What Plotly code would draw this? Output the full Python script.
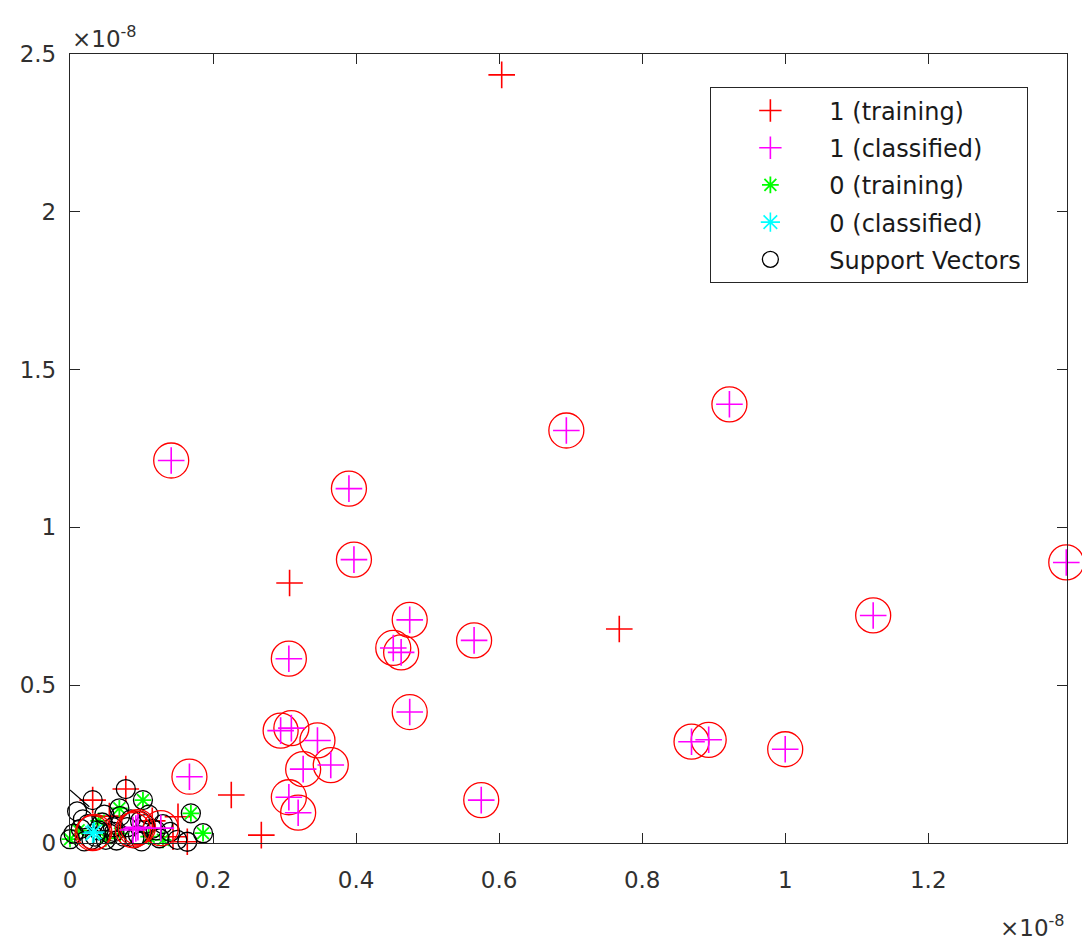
import plotly.graph_objects as go

# values in units of 1e-8
train1_x = [0.6036, 0.307, 0.768, 0.2255, 0.2675, 0.151, 0.144, 0.164, 0.0317, 0.078, 0.055, 0.115]
train1_y = [2.434, 0.824, 0.678, 0.152, 0.025, 0.083, 0.020, 0.004, 0.136, 0.171, 0.085, 0.070]

class1_x = [0.1415, 0.390, 0.397, 0.694, 0.922, 1.393, 1.123, 0.475, 0.452, 0.463, 0.565, 0.306,
            0.475, 0.2945, 0.3095, 0.346, 0.326, 0.3646, 0.306, 0.319, 0.575, 0.869, 0.893, 1.000,
            0.167, 0.088, 0.092, 0.095, 0.127]
class1_y = [1.212, 1.123, 0.898, 1.307, 1.390, 0.889, 0.721, 0.707, 0.618, 0.604, 0.642, 0.584,
            0.415, 0.356, 0.364, 0.325, 0.234, 0.247, 0.145, 0.096, 0.136, 0.321, 0.327, 0.297,
            0.210, 0.041, 0.046, 0.050, 0.047]

train0_x = [0.102, 0.169, 0.186, 0.069, 0.000, 0.012, 0.050, 0.070, 0.110, 0.130, 0.040]
train0_y = [0.136, 0.094, 0.031, 0.110, 0.012, 0.040, 0.015, 0.030, 0.020, 0.010, 0.070]

class0_x = [0.0317, 0.034]
class0_y = [0.031, 0.035]

sv_x = [0.0317, 0.078, 0.102, 0.169, 0.186, 0.164, 0.069, 0.000, 0.015, 0.045, 0.010, 0.050,
        0.075, 0.100, 0.125, 0.140, 0.060, 0.085, 0.110, 0.035, 0.020, 0.005, 0.025, 0.040,
        0.055, 0.065, 0.080, 0.095, 0.105, 0.120, 0.030, 0.070, 0.090, 0.115, 0.130, 0.018,
        0.048, 0.062, 0.098, 0.150]
sv_y = [0.136, 0.171, 0.136, 0.094, 0.031, 0.004, 0.110, 0.012, 0.045, 0.065, 0.100, 0.010,
        0.020, 0.005, 0.015, 0.035, 0.050, 0.075, 0.090, 0.020, 0.005, 0.030, 0.060, 0.040,
        0.030, 0.008, 0.050, 0.025, 0.060, 0.040, 0.010, 0.085, 0.015, 0.045, 0.060, 0.075,
        0.090, 0.035, 0.070, 0.010]

boundary_x = [0.0, 0.027]
boundary_y = [0.168, 0.115]

x_ticks = [0, 0.2, 0.4, 0.6, 0.8, 1.0, 1.2]
x_tick_text = ["0", "0.2", "0.4", "0.6", "0.8", "1", "1.2"]
y_ticks = [0, 0.5, 1.0, 1.5, 2.0, 2.5]
y_tick_text = ["0", "0.5", "1", "1.5", "2", "2.5"]

X_MAX = 1.394
Y_MAX = 2.5

FONT = "DejaVu Sans, Arial, sans-serif"
AX = "#262626"

fig = go.Figure()

fig.add_trace(go.Scatter(
    x=train1_x, y=train1_y, mode="markers", name="1 (training)", legendrank=1,
    legendgroup="a",
    marker=dict(symbol="cross-thin", size=19, color="#ff0000",
                line=dict(color="#ff0000", width=1.6)),
    cliponaxis=False))

fig.add_trace(go.Scatter(
    x=train0_x, y=train0_y, mode="markers", name="0 (training)", legendrank=3,
    legendgroup="c",
    marker=dict(symbol="asterisk", size=14, color="#00ff00",
                line=dict(color="#00ff00", width=1.8)),
    cliponaxis=False))

fig.add_trace(go.Scatter(
    x=sv_x, y=sv_y, mode="markers", name="Support Vectors", legendrank=5,
    legendgroup="e",
    marker=dict(symbol="circle-open", size=19, color="#000000",
                line=dict(color="#000000", width=1.3)),
    cliponaxis=False))

fig.add_trace(go.Scatter(
    x=boundary_x, y=boundary_y, mode="lines", showlegend=False,
    line=dict(color="#000000", width=1.2), cliponaxis=False))

fig.add_trace(go.Scatter(
    x=class1_x + class0_x, y=class1_y + class0_y, mode="markers", showlegend=False,
    marker=dict(symbol="circle-open", size=35, color="#ff0000",
                line=dict(color="#e8141c", width=1.3)),
    cliponaxis=False))

fig.add_trace(go.Scatter(
    x=class1_x, y=class1_y, mode="markers", name="1 (classified)", legendrank=2,
    legendgroup="b",
    marker=dict(symbol="cross-thin", size=19, color="#ff00ff",
                line=dict(color="#ff00ff", width=1.6)),
    cliponaxis=False))

fig.add_trace(go.Scatter(
    x=class0_x, y=class0_y, mode="markers", name="0 (classified)", legendrank=4,
    legendgroup="d",
    marker=dict(symbol="asterisk", size=17, color="#00ffff",
                line=dict(color="#00ffff", width=1.6)),
    cliponaxis=False))

axis_common = dict(
    showline=True, linecolor=AX, linewidth=1.3, mirror="ticks",
    ticks="inside", ticklen=10, tickwidth=1.3, tickcolor=AX,
    showgrid=False, zeroline=False,
    tickfont=dict(family=FONT, size=23, color="#303030"),
)

fig.update_xaxes(range=[0, X_MAX], tickvals=x_ticks, ticktext=x_tick_text,
                 ticklabelstandoff=16, **axis_common)
fig.update_yaxes(range=[0, Y_MAX], tickvals=y_ticks, ticktext=y_tick_text,
                 ticklabelstandoff=8, **axis_common)

# page body has an 8px margin, so the figure is shifted by 8px
fig.update_layout(
    width=1082, height=937,
    margin=dict(l=60, r=23, t=46, b=102),
    paper_bgcolor="white", plot_bgcolor="white",
    font=dict(family=FONT, color=AX),
    legend=dict(
        x=0.642, y=0.958, xanchor="left", yanchor="top",
        bgcolor="white", bordercolor=AX, borderwidth=1.3,
        font=dict(family=FONT, size=24, color="#1a1a1a"),
        tracegroupgap=3, itemwidth=108,
    ),
    annotations=[
        dict(text="×10<sup>-8</sup>", xref="paper", yref="paper", x=0.0, y=1.0,
             xanchor="left", yanchor="bottom", showarrow=False, yshift=0,
             font=dict(family=FONT, size=23, color="#303030")),
        dict(text="×10<sup>-8</sup>", xref="paper", yref="paper", x=1.0, y=0.0,
             xanchor="right", yanchor="top", showarrow=False, yshift=-66,
             font=dict(family=FONT, size=23, color="#303030")),
    ],
)

fig.write_html("out.html")
